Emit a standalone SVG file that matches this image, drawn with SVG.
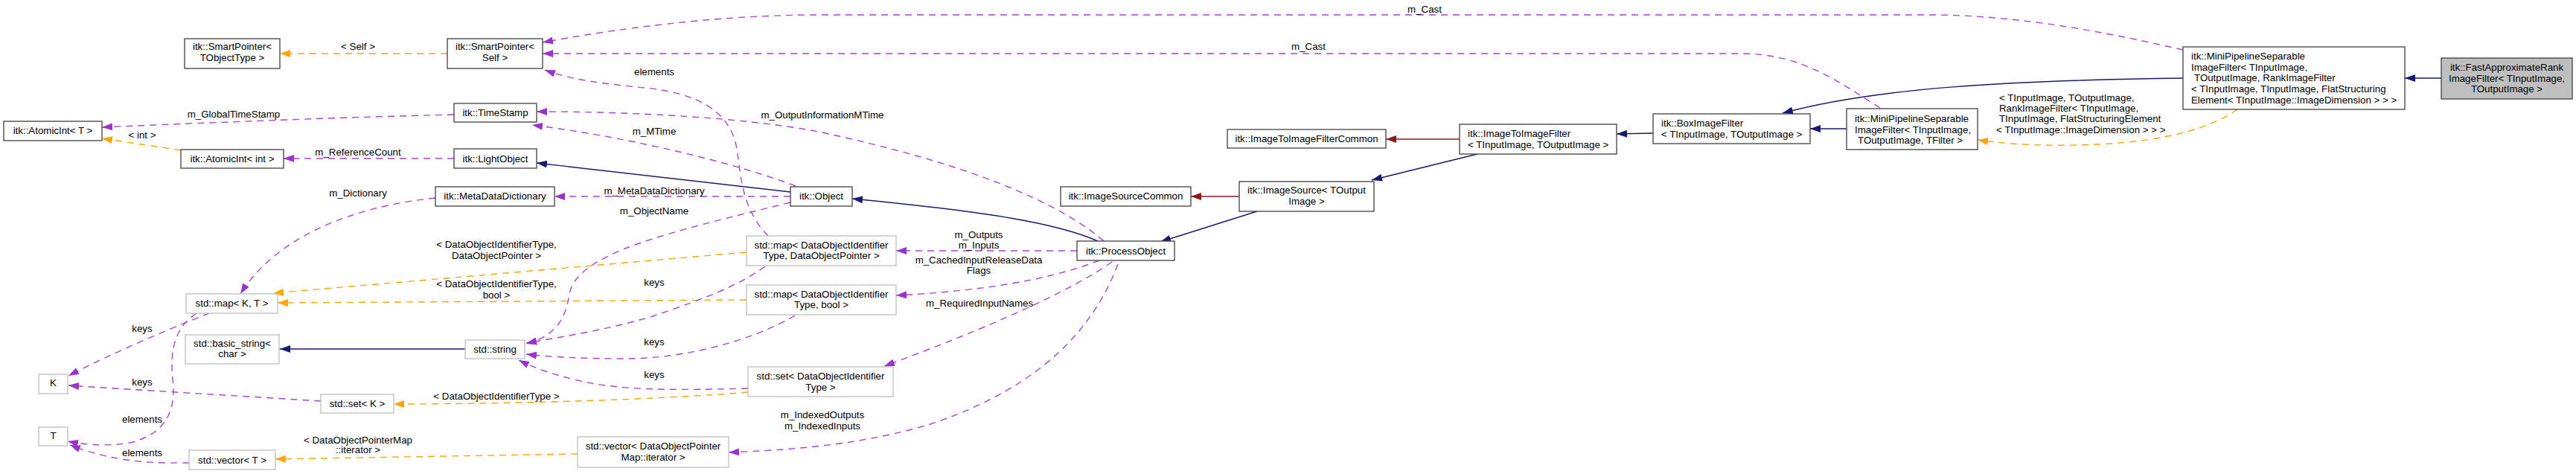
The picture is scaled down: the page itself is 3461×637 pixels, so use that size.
<svg xmlns="http://www.w3.org/2000/svg" width="3461" height="637" viewBox="0 0 3461 637">
<style>
text{font-family:"Liberation Sans",Arial,sans-serif;font-size:13.3px;fill:#000}
.c{text-anchor:middle}
.n{fill:#fff;stroke:#404040;stroke-width:1.3}
.u{fill:#fff;stroke:#bfbfbf;stroke-width:1.3}
.t{fill:#bfbfbf;stroke:#404040;stroke-width:1.3}
.e{fill:none;stroke-width:1.4}
.p{stroke:#a944d6;stroke-dasharray:9,7}
.o{stroke:#ffa500;stroke-dasharray:9,7}
.b{stroke:#191970}
.r{stroke:#8b1a1a}
</style>
<defs>
<marker id="ap" viewBox="0 0 14 10" refX="14" refY="5" markerWidth="14" markerHeight="10" markerUnits="userSpaceOnUse" orient="auto"><path d="M0,0L14,5L0,10z" fill="#9a32cd"/></marker>
<marker id="ao" viewBox="0 0 14 10" refX="14" refY="5" markerWidth="14" markerHeight="10" markerUnits="userSpaceOnUse" orient="auto"><path d="M0,0L14,5L0,10z" fill="#ffa500"/></marker>
<marker id="ab" viewBox="0 0 14 10" refX="14" refY="5" markerWidth="14" markerHeight="10" markerUnits="userSpaceOnUse" orient="auto"><path d="M0,0L14,5L0,10z" fill="#191970"/></marker>
<marker id="ar" viewBox="0 0 14 10" refX="14" refY="5" markerWidth="14" markerHeight="10" markerUnits="userSpaceOnUse" orient="auto"><path d="M0,0L14,5L0,10z" fill="#8b1a1a"/></marker>
</defs>
<rect width="3461" height="637" fill="#fff"/>
<g id="edges">
<path class="e o" marker-end="url(#ao)" d="M601,72L376,72"/>
<path class="e p" marker-end="url(#ap)" d="M610,154C450,158 300,164 137,171"/>
<path class="e o" marker-end="url(#ao)" d="M243,202L137,186"/>
<path class="e p" marker-end="url(#ap)" d="M610,213L381,213"/>
<path class="e p" marker-end="url(#ap)" d="M585,266C470,278 370,320 323,395"/>
<path class="e b" marker-end="url(#ab)" d="M1062,258L721,219"/>
<path class="e p" marker-end="url(#ap)" d="M1069,250C990,220 850,185 715,168"/>
<path class="e p" marker-end="url(#ap)" d="M1062,264L745,264"/>
<path class="e p" marker-end="url(#ap)" d="M1062,272C900,312 775,340 765,395C760,430 745,452 707,462"/>
<path class="e b" marker-end="url(#ab)" d="M1475,324C1420,300 1330,285 1145,267"/>
<path class="e p" marker-end="url(#ap)" d="M1483,324C1420,270 1300,220 1100,177C1000,158 850,150 721,150"/>
<path class="e p" marker-end="url(#ap)" d="M1032,317C995,280 995,230 990,200C980,140 920,122 856,117C810,112 770,108 732,94"/>
<path class="e r" marker-end="url(#ar)" d="M1665,264L1600,264"/>
<path class="e b" marker-end="url(#ab)" d="M1689,284L1559,325"/>
<path class="e p" marker-end="url(#ap)" d="M1447,337L1204,337"/>
<path class="e p" marker-end="url(#ap)" d="M1477,350C1400,380 1300,392 1204,397"/>
<path class="e p" marker-end="url(#ap)" d="M1494,352C1440,390 1330,440 1188,492"/>
<path class="e p" marker-end="url(#ap)" d="M1502,355C1470,440 1400,520 1250,570C1150,600 1050,605 979,608"/>
<path class="e o" marker-end="url(#ao)" d="M1003,339L367,394"/>
<path class="e o" marker-end="url(#ao)" d="M1003,403L373,407"/>
<path class="e p" marker-end="url(#ap)" d="M1028,358C990,385 950,400 877,425C820,442 760,452 707,461"/>
<path class="e p" marker-end="url(#ap)" d="M1068,424C1010,458 920,482 840,482C790,482 740,480 707,476"/>
<path class="e p" marker-end="url(#ap)" d="M1005,522C920,524 840,526 780,512C740,503 715,493 697,484"/>
<path class="e b" marker-end="url(#ab)" d="M625,469L376,469"/>
<path class="e o" marker-end="url(#ao)" d="M1005,527C900,536 700,543 529,543"/>
<path class="e o" marker-end="url(#ao)" d="M776,610L370,617"/>
<path class="e p" marker-end="url(#ap)" d="M281,421C220,445 150,475 92,505"/>
<path class="e p" marker-end="url(#ap)" d="M431,539C320,532 200,525 92,518"/>
<path class="e p" marker-end="url(#ap)" d="M264,421C235,440 228,470 232,510C238,560 215,585 175,595C145,600 115,598 91,593"/>
<path class="e p" marker-end="url(#ap)" d="M254,622C200,623 150,620 94,598"/>
<path class="e p" marker-end="url(#ap)" d="M2526,145C2470,110 2420,72 2340,72L729,72"/>
<path class="e p" marker-end="url(#ap)" d="M2933,67C2850,48 2720,20 2594,20L1100,20C960,20 820,40 729,57"/>
<path class="e b" marker-end="url(#ab)" d="M2221,179L2172,180"/>
<path class="e r" marker-end="url(#ar)" d="M1961,187L1862,187"/>
<path class="e b" marker-end="url(#ab)" d="M1985,207L1843,242"/>
<path class="e b" marker-end="url(#ab)" d="M2481,173L2432,173"/>
<path class="e b" marker-end="url(#ab)" d="M2933,105C2700,108 2520,118 2395,152"/>
<path class="e o" marker-end="url(#ao)" d="M3006,147C2960,180 2880,193 2790,195C2730,196 2690,193 2657,188"/>
<path class="e b" marker-end="url(#ab)" d="M3280,105L3231,105"/>
<g id="edge-labels">
<text class="c" x="481" y="67">&lt; Self &gt;</text>
<text class="c" x="314" y="158">m_GlobalTimeStamp</text>
<text class="c" x="191" y="186">&lt; int &gt;</text>
<text class="c" x="481" y="209">m_ReferenceCount</text>
<text class="c" x="481" y="264">m_Dictionary</text>
<text class="c" x="879" y="101">elements</text>
<text class="c" x="879" y="181">m_MTime</text>
<text class="c" x="879" y="261">m_MetaDataDictionary</text>
<text class="c" x="879" y="288">m_ObjectName</text>
<text class="c" x="1105" y="159">m_OutputInformationMTime</text>
<text class="c" x="1315" y="320">m_Outputs</text>
<text class="c" x="1315" y="334">m_Inputs</text>
<text class="c" x="1315" y="354">m_CachedInputReleaseData</text>
<text class="c" x="1315" y="368">Flags</text>
<text class="c" x="1316" y="412">m_RequiredInputNames</text>
<text class="c" x="1105" y="562">m_IndexedOutputs</text>
<text class="c" x="1105" y="577">m_IndexedInputs</text>
<text class="c" x="667" y="333">&lt; DataObjectIdentifierType,</text>
<text class="c" x="667" y="348">DataObjectPointer &gt;</text>
<text class="c" x="667" y="386">&lt; DataObjectIdentifierType,</text>
<text class="c" x="667" y="401">bool &gt;</text>
<text class="c" x="879" y="384">keys</text>
<text class="c" x="879" y="464">keys</text>
<text class="c" x="879" y="508">keys</text>
<text class="c" x="667" y="537">&lt; DataObjectIdentifierType &gt;</text>
<text class="c" x="481" y="596">&lt; DataObjectPointerMap</text>
<text class="c" x="481" y="609">::iterator &gt;</text>
<text class="c" x="191" y="446">keys</text>
<text class="c" x="191" y="518">keys</text>
<text class="c" x="191" y="568">elements</text>
<text class="c" x="191" y="613">elements</text>
<text class="c" x="1758" y="67">m_Cast</text>
<text class="c" x="1914" y="17">m_Cast</text>
<text x="2686" y="136">&lt; TInputImage, TOutputImage,</text>
<text x="2686" y="150">RankImageFilter&lt; TInputImage,</text>
<text x="2686" y="164">TInputImage, FlatStructuringElement</text>
<text x="2682" y="179">&lt; TInputImage::ImageDimension &gt; &gt; &gt;</text>
</g>
</g>
<g id="n_sp_tobj"><rect class="n" x="248" y="52" width="128" height="40"/><text class="c" x="312" y="67">itk::SmartPointer&lt;</text><text class="c" x="312" y="82">TObjectType &gt;</text></g>
<g id="n_sp_self"><rect class="n" x="601" y="52" width="128" height="40"/><text class="c" x="665" y="67">itk::SmartPointer&lt;</text><text class="c" x="665" y="82">Self &gt;</text></g>
<g id="n_atomic_t"><rect class="n" x="5" y="163" width="132" height="26"/><text class="c" x="71" y="180">itk::AtomicInt&lt; T &gt;</text></g>
<g id="n_atomic_int"><rect class="n" x="243" y="201" width="138" height="25"/><text class="c" x="312" y="218">itk::AtomicInt&lt; int &gt;</text></g>
<g id="n_timestamp"><rect class="n" x="610" y="139" width="111" height="25"/><text class="c" x="665.5" y="156">itk::TimeStamp</text></g>
<g id="n_lightobject"><rect class="n" x="610" y="200" width="111" height="26"/><text class="c" x="665.5" y="218">itk::LightObject</text></g>
<g id="n_metadata"><rect class="n" x="585" y="251" width="160" height="26"/><text class="c" x="665" y="268">itk::MetaDataDictionary</text></g>
<g id="n_object"><rect class="n" x="1062" y="251" width="83" height="26"/><text class="c" x="1103.5" y="268">itk::Object</text></g>
<g id="n_processobject"><rect class="n" x="1447" y="324" width="131" height="26"/><text class="c" x="1512.5" y="342">itk::ProcessObject</text></g>
<g id="n_imagesourcecommon"><rect class="n" x="1425" y="251" width="175" height="26"/><text class="c" x="1512.5" y="268">itk::ImageSourceCommon</text></g>
<g id="n_imagesource"><rect class="n" x="1665" y="244" width="181" height="40"/><text class="c" x="1755.5" y="260">itk::ImageSource&lt; TOutput</text><text class="c" x="1755.5" y="275">Image &gt;</text></g>
<g id="n_i2icommon"><rect class="n" x="1649" y="174" width="213" height="25"/><text class="c" x="1755.5" y="191">itk::ImageToImageFilterCommon</text></g>
<g id="n_i2i"><rect class="n" x="1961" y="167" width="211" height="40"/><text x="1972" y="184">itk::ImageToImageFilter</text><text x="1972" y="199">&lt; TInputImage, TOutputImage &gt;</text></g>
<g id="n_box"><rect class="n" x="2221" y="153" width="211" height="40"/><text x="2232" y="170">itk::BoxImageFilter</text><text x="2232" y="185">&lt; TInputImage, TOutputImage &gt;</text></g>
<g id="n_mini_tfilter"><rect class="n" x="2481" y="146" width="176" height="55"/><text x="2492" y="164">itk::MiniPipelineSeparable</text><text x="2492" y="179">ImageFilter&lt; TInputImage,</text><text x="2496" y="193">TOutputImage, TFilter &gt;</text></g>
<g id="n_mini_rank"><rect class="n" x="2933" y="63" width="298" height="84"/><text x="2944" y="80">itk::MiniPipelineSeparable</text><text x="2944" y="95">ImageFilter&lt; TInputImage,</text><text x="2948" y="109">TOutputImage, RankImageFilter</text><text x="2944" y="124">&lt; TInputImage, TInputImage, FlatStructuring</text><text x="2944" y="139">Element&lt; TInputImage::ImageDimension &gt; &gt; &gt;</text></g>
<g id="n_fast"><rect class="t" x="3280" y="78" width="176" height="55"/><text class="c" x="3368" y="95">itk::FastApproximateRank</text><text class="c" x="3368" y="110">ImageFilter&lt; TInputImage,</text><text class="c" x="3368" y="124">TOutputImage &gt;</text></g>
<g id="n_map_kt"><rect class="u" x="250" y="395" width="123" height="26"/><text class="c" x="311.5" y="412">std::map&lt; K, T &gt;</text></g>
<g id="n_basic_string"><rect class="u" x="249" y="450" width="126" height="39"/><text class="c" x="312" y="466">std::basic_string&lt;</text><text class="c" x="312" y="480">char &gt;</text></g>
<g id="n_string"><rect class="u" x="625" y="457" width="80" height="25"/><text class="c" x="665" y="474">std::string</text></g>
<g id="n_k"><rect class="u" x="52" y="503" width="39" height="26"/><text class="c" x="71.5" y="519">K</text></g>
<g id="n_t"><rect class="u" x="52" y="574" width="39" height="25"/><text class="c" x="71.5" y="590">T</text></g>
<g id="n_set_k"><rect class="u" x="431" y="530" width="98" height="25"/><text class="c" x="480" y="547">std::set&lt; K &gt;</text></g>
<g id="n_vector_t"><rect class="u" x="254" y="605" width="116" height="26"/><text class="c" x="312" y="623">std::vector&lt; T &gt;</text></g>
<g id="n_map_dop"><rect class="u" x="1003" y="317" width="201" height="40"/><text class="c" x="1103.5" y="334">std::map&lt; DataObjectIdentifier</text><text class="c" x="1103.5" y="348">Type, DataObjectPointer &gt;</text></g>
<g id="n_map_bool"><rect class="u" x="1003" y="383" width="201" height="40"/><text class="c" x="1103.5" y="400">std::map&lt; DataObjectIdentifier</text><text class="c" x="1103.5" y="414">Type, bool &gt;</text></g>
<g id="n_set_doit"><rect class="u" x="1005" y="493" width="195" height="40"/><text class="c" x="1102.5" y="510">std::set&lt; DataObjectIdentifier</text><text class="c" x="1102.5" y="525">Type &gt;</text></g>
<g id="n_vector_dopm"><rect class="u" x="776" y="587" width="203" height="41"/><text class="c" x="877.5" y="604">std::vector&lt; DataObjectPointer</text><text class="c" x="877.5" y="619">Map::iterator &gt;</text></g>
</svg>
